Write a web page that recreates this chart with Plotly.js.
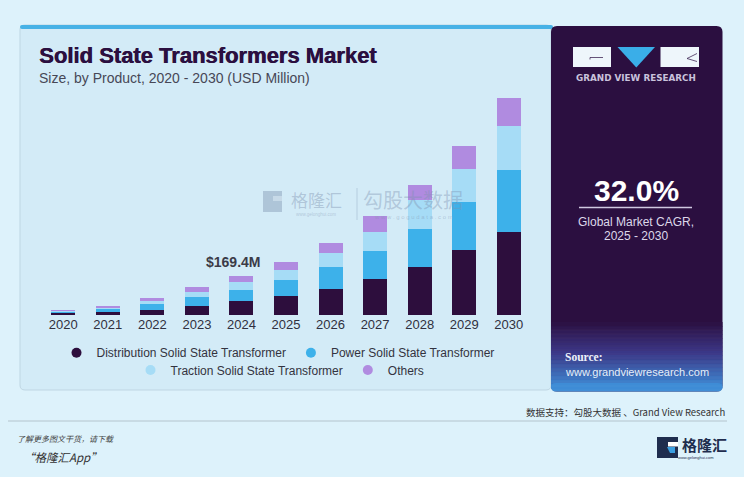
<!DOCTYPE html>
<html><head><meta charset="utf-8">
<script src="https://cdn.plot.ly/plotly-3.0.1.min.js"></script>
<style>html,body{margin:0;padding:0;background:#ddf2fb;}#chart{width:744px;height:477px;}</style>
</head><body><div id="chart"></div>
<script>
// ---- data (USD Million) ----
const years = ['2020','2021','2022','2023','2024','2025','2026','2027','2028','2029','2030'];
const distribution = [9, 12, 23, 38, 58.4, 81, 114, 157, 209, 281, 361];
const powerSST     = [6, 12, 25, 40, 48, 69, 93, 121, 162, 209, 267];
const tractionSST  = [4, 7, 12, 20, 36, 43, 63, 80, 127, 142, 187];
const othersSST    = [4, 7, 12, 22, 27, 38, 43, 68, 65, 97, 123];
const seriesNames = ['Distribution Solid State Transformer','Power Solid State Transformer','Traction Solid State Transformer','Others'];
const highlightYear = '2024';
const highlightLabel = '$169.4M';
const cagrValue = '32.0%';

// ---- geometry helpers (pixel -> paper) ----
const W=744,H=477,L=41,R=213,T=86,B=162,PW=W-L-R,PH=H-T-B;
const fx = x => (x-L)/PW;
const fy = y => (H-B-y)/PH;
function rr(x0,y0,x1,y1,r){
  const p=(x,y)=>fx(x).toFixed(5)+','+fy(y).toFixed(5);
  return 'M'+p(x0+r,y0)+' L'+p(x1-r,y0)+' Q'+p(x1,y0)+' '+p(x1,y0+r)+' L'+p(x1,y1-r)+' Q'+p(x1,y1)+' '+p(x1-r,y1)+
    ' L'+p(x0+r,y1)+' Q'+p(x0,y1)+' '+p(x0,y1-r)+' L'+p(x0,y0+r)+' Q'+p(x0,y0)+' '+p(x0+r,y0)+' Z';
}
function poly(pts){ return 'M'+pts.map(q=>fx(q[0]).toFixed(5)+','+fy(q[1]).toFixed(5)).join(' L')+' Z'; }
function rect(x0,y0,x1,y1,fill,layer){ return {type:'rect',xref:'paper',yref:'paper',x0:fx(x0),x1:fx(x1),y0:fy(y1),y1:fy(y0),fillcolor:fill,line:{width:0},layer:layer||'below'}; }
function line(x0,y0,x1,y1,color,w,layer){ return {type:'line',xref:'paper',yref:'paper',x0:fx(x0),x1:fx(x1),y0:fy(y0),y1:fy(y1),line:{color:color,width:w},layer:layer||'below'}; }
function ann(text,x,y,font,xanchor,extra){ return Object.assign({text:text,xref:'paper',yref:'paper',x:fx(x),y:fy(y),xanchor:xanchor||'center',yanchor:'middle',showarrow:false,font:font},extra||{}); }

const colors = ['#2d0e3d','#3db1ea','#a6dcf6','#b08be0'];
const FONT = 'Liberation Sans, Arial, sans-serif';
const CJK = 'Noto Sans CJK SC, sans-serif';
const series = [distribution, powerSST, tractionSST, othersSST];

const traces = [];
series.forEach((vals,i)=>{
  traces.push({type:'bar',x:years,y:vals,name:seriesNames[i],marker:{color:colors[i],line:{width:0}},width:0.54,showlegend:false,hoverinfo:'skip'});
});
series.forEach((vals,i)=>{
  traces.push({type:'scatter',mode:'markers',x:[null],y:[null],name:seriesNames[i],marker:{color:colors[i],size:10,symbol:'circle'},
    legend: i<2 ? 'legend' : 'legend2', showlegend:true, hoverinfo:'skip'});
});

const hlIdx = years.indexOf(highlightYear);
const hlTotal = series.reduce((s,a)=>s+a[hlIdx],0);

const shapes = [];
shapes.push({type:'path',xref:'paper',yref:'paper',path:rr(20,25,551,390,5),fillcolor:'#d3ebf7',line:{color:'#bfd6e3',width:1},layer:'below'});
shapes.push({type:'path',xref:'paper',yref:'paper',path:rr(20,25,553,29,2),fillcolor:'#47b2e6',line:{width:0},layer:'below'});
shapes.push({type:'path',xref:'paper',yref:'paper',path:rr(551,26,722.5,391.5,6),fillcolor:'#2b0f40',line:{width:0},layer:'below'});
const gTop=322,gBot=388,steps=16;
const stops=[[0,[43,15,64]],[0.45,[58,52,132]],[1,[62,140,214]]];
function lerpColor(t){
  for(let k=1;k<stops.length;k++){ if(t<=stops[k][0]){const a=stops[k-1],b=stops[k];const u=(t-a[0])/(b[0]-a[0]);
    return 'rgb('+a[1].map((c,j)=>Math.round(c+(b[1][j]-c)*u)).join(',')+')';}}
  return 'rgb('+stops[stops.length-1][1].join(',')+')';
}
for(let s=0;s<steps;s++){
  const y0=gTop+(gBot-gTop)*s/steps, y1=gTop+(gBot-gTop)*(s+1)/steps+0.6;
  shapes.push(rect(551,y0,722.5,y1,lerpColor((s+0.5)/steps)));
}
shapes.push({type:'path',xref:'paper',yref:'paper',path:rr(551,383,722.5,391.5,5),fillcolor:lerpColor(1),line:{width:0},layer:'below'});
for(let y=330;y<391;y+=4){ shapes.push(line(551,y,722.5,y,'rgba(255,255,255,0.07)',0.6)); }
// GVR logo
shapes.push(rect(573,47,611,67,'#eef6fb'));
shapes.push(rect(660.5,47,699,67,'#eef6fb'));
shapes.push({type:'path',xref:'paper',yref:'paper',path:poly([[617.5,47],[655,47],[636.3,67.5]]),fillcolor:'#3aaee8',line:{width:0},layer:'below'});
shapes.push(line(590,57.5,603,57.5,'#2b0f40',0.7));
shapes.push(line(590,57.5,590,59.5,'#2b0f40',0.7));
shapes.push(line(697,53.5,687,58.5,'#2b0f40',0.7));
shapes.push(line(687,58.5,697,61.5,'#2b0f40',0.7));
// CAGR underline
shapes.push(line(579,207.5,692,207.5,'#cfc8e0',1.5));
// footer line
shapes.push(line(8,421,727,421,'#b4c4cd',1));
// bottom-right logo icon
shapes.push(rect(657,437,678,458,'#1f2d4e'));
shapes.push(rect(668,442,678,446.5,'#ffffff'));
shapes.push({type:'path',xref:'paper',yref:'paper',path:poly([[667,447],[675,447],[675,453],[670,453]]),fillcolor:'#3a9ee0',line:{width:0},layer:'below'});
// watermark (above the bars)
const wm='rgba(125,145,175,0.42)';
shapes.push(rect(263,191,282,212,wm,'above'));
shapes.push(rect(273,196,282,201,'rgba(220,235,245,0.55)','above'));
shapes.push(line(357,188,357,220,'rgba(130,150,180,0.35)',1,'above'));

const F=(size,color,extra)=>Object.assign({family:FONT,size:size,color:color},extra||{});
const annotations = [
  ann('Solid State Transformers Market',37,55.5,F(22,'#2b0f40',{weight:900,shadow:'0.6px 0 0 #2b0f40'}),'left'),
  ann('Size, by Product, 2020 - 2030 (USD Million)',37,77.5,F(14,'#474756'),'left'),
  {text:highlightLabel,xref:'x',yref:'y',x:hlIdx,y:hlTotal,xanchor:'center',yanchor:'middle',xshift:-8,yshift:13.5,showarrow:false,font:F(14,'#3b3b48',{weight:700})},
  ann('GRAND VIEW RESEARCH',636,78,{family:'DejaVu Sans, sans-serif',size:8.8,color:'#c9c3dc',weight:700}),
  ann(cagrValue,636.5,190,F(30,'#ffffff',{weight:700})),
  ann('Global Market CAGR,',636,221.5,F(12,'#ddd8ea')),
  ann('2025 - 2030',636,236.5,F(12,'#ddd8ea')),
  ann('Source:',563,357,{family:'Liberation Serif, serif',size:11.5,color:'#eef2fa',weight:700},'left'),
  ann('www.grandviewresearch.com',563,372,F(11,'#e6f0fa'),'left'),
  ann('数据支持：勾股大数据 、Grand View Research',727,411.5,{family:CJK,size:9.5,color:'#333333'},'right'),
  ann('了解更多图文干货，请下载',15,438.5,{family:CJK,size:8,color:'#444444',style:'italic'},'left'),
  ann('“格隆汇App”',21,457,{family:CJK,size:11.5,color:'#333333',style:'italic'},'left'),
  ann('格隆汇',680,444.5,{family:CJK,size:15,color:'#1f2d4e',weight:700},'left'),
  ann('www.gelonghui.com',696,457.5,{family:FONT,size:4,color:'#1f2d4e'}),
  ann('格隆汇',316,199.5,{family:CJK,size:17,color:wm}),
  ann('www.gelonghui.com',316,214,{family:FONT,size:4.5,color:wm}),
  ann('勾股大数据',413,199,{family:CJK,size:20,color:'rgba(125,145,175,0.40)'}),
  ann('w w w . g o g u d a t a . c o m',413,217,{family:FONT,size:6,color:wm}),
];

const legendBase = {orientation:'h',xref:'paper',yref:'paper',xanchor:'center',yanchor:'middle',bgcolor:'rgba(0,0,0,0)',borderwidth:0,
  font:{family:FONT,size:12,color:'#333340'},itemwidth:30,traceorder:'normal'};

const layout = {
  width:W,height:H,margin:{l:L,r:R,t:T,b:B,pad:0},
  paper_bgcolor:'#ddf2fb',plot_bgcolor:'rgba(0,0,0,0)',
  barmode:'stack',showlegend:true,
  xaxis:{type:'category',categoryorder:'array',categoryarray:years,range:[-0.5,10.5],showgrid:false,zeroline:false,showline:false,ticks:'',
    tickfont:{family:FONT,size:13,color:'#30303e'},fixedrange:true},
  yaxis:{range:[0,990],visible:false,fixedrange:true},
  legend:Object.assign({},legendBase,{x:fx(278),y:fy(352.7)}),
  legend2:Object.assign({},legendBase,{x:fx(280),y:fy(370)}),
  shapes:shapes,annotations:annotations
};
Plotly.newPlot('chart',traces,layout,{staticPlot:true,displayModeBar:false});
</script></body></html>
